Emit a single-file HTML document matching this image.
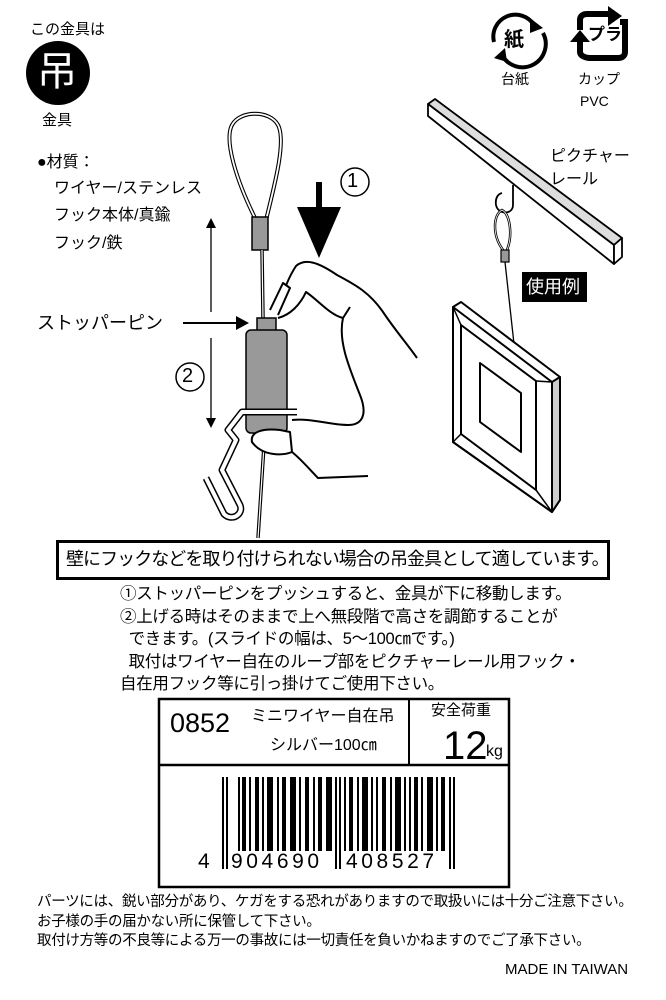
<!DOCTYPE html>
<html><head><meta charset="utf-8"><style>
html,body{margin:0;padding:0;background:#fff}
body{width:666px;height:1000px;position:relative;overflow:hidden;font-family:"Liberation Sans","Noto Sans CJK JP",sans-serif;color:#000}
.t{position:absolute;white-space:nowrap;line-height:1}
</style></head><body>
<svg width="666" height="1000" style="position:absolute;left:0;top:0" xmlns="http://www.w3.org/2000/svg">
<circle cx="58" cy="73" r="32" fill="#000"/>
<g stroke="#000" stroke-width="1.3" fill="none">
<line x1="211" y1="225" x2="211" y2="312"/>
<line x1="211" y1="338" x2="211" y2="422"/>
</g>
<polygon points="206,228 211,218 216,228" fill="#000"/>
<polygon points="206,418 211,428 216,418" fill="#000"/>
<line x1="183" y1="323" x2="240" y2="323" stroke="#000" stroke-width="2"/>
<polygon points="236,316 249,323 236,330" fill="#000"/>
<path d="M256,220 C236,180 224,140 232,125 C240,110 270,110 278,125 C286,140 276,180 266,220" fill="none" stroke="#000" stroke-width="4"/>
<path d="M256,220 C236,180 224,140 232,125 C240,110 270,110 278,125 C286,140 276,180 266,220" fill="none" stroke="#fff" stroke-width="1.8"/>
<rect x="252" y="217" width="16" height="33" fill="#999" stroke="#000" stroke-width="1.5"/>
<path d="M262,250 L263,318" stroke="#000" stroke-width="3.5" fill="none"/>
<path d="M262,250 L263,318" stroke="#fff" stroke-width="1.2" fill="none"/>
<path d="M265,430 L258,538" stroke="#000" stroke-width="3.5" fill="none"/>
<path d="M265,430 L258,538" stroke="#fff" stroke-width="1.2" fill="none"/>
<rect x="257" y="318" width="19" height="13" fill="#999" stroke="#000" stroke-width="1.5"/>
<rect x="246" y="330" width="41" height="103" rx="5" fill="#999" stroke="#000" stroke-width="1.5"/>
<path d="M297,412 L242,412 L228,430 L236,440 L222,470 L240,505 C244,514 232,522 224,514 L206,478" fill="none" stroke="#000" stroke-width="7" stroke-linejoin="round"/>
<path d="M297,412 L242,412 L228,430 L236,440 L222,470 L240,505 C244,514 232,522 224,514 L206,478" fill="none" stroke="#fff" stroke-width="4" stroke-linejoin="round"/>
<g fill="none" stroke="#000" stroke-width="2" stroke-linejoin="round">
<path d="M278,310 C282,295 288,278 296,266 C305,258 318,262 337,275 C356,285 370,293 383,312 C395,330 408,345 417,358"/>
<path d="M270,310 L283,283 L290,288 L278,315" fill="#fff"/>
<path d="M278,318 C290,315 300,305 306,292 C318,300 330,315 343,318 L350,307 M343,318 C338,340 348,365 360,395 C368,415 362,425 348,425 C330,425 312,418 292,420"/>
<path d="M252,442 C250,432 262,428 280,430 L290,432 L292,452 C282,456 262,456 252,442 Z" fill="#fff"/>
<path d="M292,452 C302,460 310,470 318,478 L368,476"/>
</g>
<rect x="316" y="182" width="6" height="28" fill="#000"/>
<polygon points="297,207 341,207 319,258" fill="#000"/>
<circle cx="355" cy="182" r="14" fill="none" stroke="#000" stroke-width="1.5"/>
<circle cx="190" cy="377" r="14" fill="none" stroke="#000" stroke-width="1.5"/>
<g fill="none" stroke="#000" stroke-width="4">
<path d="M494,42 A22,22 0 0 1 534,25"/>
<path d="M543,33 A22,22 0 0 1 502,55"/>
</g>
<polygon points="530,18 543,28 530,33" fill="#000"/>
<polygon points="505,48 494,58 507,62" fill="#000"/>
<path d="M580,30 L580,20 C580,16 583,14 587,14 L612,14 M620,22 L625,22 L625,52 C625,56 622,58 618,58 L590,58 C586,58 580,56 580,52 L580,42" fill="none" stroke="#000" stroke-width="6"/>
<polygon points="608,6 622,16 608,26" fill="#000"/>
<polygon points="570,42 580,30 590,42" fill="#000"/>
<polygon points="435,99 622,238 614,245 428,104" fill="#ddd" stroke="#000" stroke-width="1.8" stroke-linejoin="round"/>
<polygon points="428,104 614,245 614,264 428,116" fill="#fff" stroke="#000" stroke-width="1.8" stroke-linejoin="round"/>
<polygon points="614,245 622,238 622,257 614,264" fill="#fff" stroke="#000" stroke-width="1.8" stroke-linejoin="round"/>
<path d="M513,185 L513,205 C513,215 498,215 496,205 C495,198 498,194 502,193" fill="none" stroke="#000" stroke-width="1.8"/>
<path d="M503,250 C492,235 493,215 502,210 C510,214 513,235 507,250" fill="none" stroke="#000" stroke-width="2.5"/>
<path d="M503,250 C492,235 493,215 502,210 C510,214 513,235 507,250" fill="none" stroke="#fff" stroke-width="0.8"/>
<rect x="501" y="250" width="8" height="12" fill="#999" stroke="#000" stroke-width="1.2"/>
<line x1="505" y1="262" x2="514" y2="344" stroke="#000" stroke-width="1.3"/>
<rect x="522" y="272" width="65" height="30" fill="#000"/>
<g fill="#fff" stroke="#000" stroke-width="2" stroke-linejoin="round">
<polygon points="453,307 461,302 560,377 560,500 552,512 453,442"/>
<polygon points="453,307 552,382 552,512 453,442"/>
<polygon points="461,325 536,381 536,490 461,434"/>
<polygon points="480,363 521,393 521,452 480,422"/>
<polygon points="552,382 560,377 560,500 552,512" fill="#ccc"/>
</g>
<g stroke="#000" stroke-width="1.5"><line x1="453" y1="307" x2="461" y2="325"/><line x1="552" y1="382" x2="536" y2="381"/><line x1="552" y1="512" x2="536" y2="490"/><line x1="453" y1="442" x2="461" y2="434"/></g>
<rect x="57.5" y="541.5" width="551" height="37" fill="none" stroke="#000" stroke-width="3"/>
<rect x="159" y="699" width="350" height="188" fill="none" stroke="#000" stroke-width="2.5"/>
<line x1="159" y1="765" x2="509" y2="765" stroke="#000" stroke-width="2.5"/>
<line x1="409" y1="699" x2="409" y2="765" stroke="#000" stroke-width="2"/>
<g fill="#000">
<rect x="222" y="777" width="2" height="92"/><rect x="226" y="777" width="2" height="92"/>
<rect x="238" y="777" width="2" height="74"/><rect x="242" y="777" width="4" height="74"/>
<rect x="249" y="777" width="2" height="74"/><rect x="255" y="777" width="4" height="74"/>
<rect x="262" y="777" width="2" height="74"/><rect x="267" y="777" width="6" height="74"/>
<rect x="277" y="777" width="2" height="74"/><rect x="282" y="777" width="4" height="74"/>
<rect x="290" y="777" width="6" height="74"/><rect x="299" y="777" width="2" height="74"/>
<rect x="305" y="777" width="4" height="74"/><rect x="313" y="777" width="2" height="74"/>
<rect x="318" y="777" width="4" height="74"/><rect x="326" y="777" width="6" height="74"/>
<rect x="335" y="777" width="2" height="92"/><rect x="339" y="777" width="2" height="92"/>
<rect x="344" y="777" width="2" height="74"/><rect x="349" y="777" width="4" height="74"/>
<rect x="357" y="777" width="2" height="74"/><rect x="362" y="777" width="6" height="74"/>
<rect x="371" y="777" width="2" height="74"/><rect x="376" y="777" width="2" height="74"/>
<rect x="382" y="777" width="4" height="74"/><rect x="390" y="777" width="2" height="74"/>
<rect x="395" y="777" width="6" height="74"/><rect x="404" y="777" width="2" height="74"/>
<rect x="409" y="777" width="2" height="74"/><rect x="414" y="777" width="4" height="74"/>
<rect x="421" y="777" width="2" height="74"/><rect x="427" y="777" width="6" height="74"/>
<rect x="436" y="777" width="2" height="74"/><rect x="441" y="777" width="4" height="74"/>
<rect x="449" y="777" width="2" height="92"/><rect x="453" y="777" width="2" height="92"/>
</g>
</svg>

<div class="t" style="left:30px;top:22px;font-size:15px">この金具は</div>
<div class="t" style="left:37px;top:52px;font-size:40px;color:#fff">吊</div>
<div class="t" style="left:42px;top:113px;font-size:15px">金具</div>
<div class="t" style="left:37px;top:155px;font-size:16px">●材質：</div>
<div class="t" style="left:54px;top:181px;font-size:16px">ワイヤー/ステンレス</div>
<div class="t" style="left:54px;top:208px;font-size:16px">フック本体/真鍮</div>
<div class="t" style="left:54px;top:236px;font-size:16px">フック/鉄</div>
<div class="t" style="left:37px;top:314px;font-size:18px">ストッパーピン</div>
<div class="t" style="left:347px;top:171px;font-size:20px">1</div>
<div class="t" style="left:182px;top:366px;font-size:20px">2</div>
<div class="t" style="left:504px;top:30px;font-size:20px;font-weight:bold">紙</div>
<div class="t" style="left:588px;top:26px;font-size:17px;font-weight:bold">プラ</div>
<div class="t" style="left:501px;top:72px;font-size:14px">台紙</div>
<div class="t" style="left:578px;top:72px;font-size:14px">カップ</div>
<div class="t" style="left:580px;top:94px;font-size:14px">PVC</div>
<div class="t" style="left:550px;top:149px;font-size:16px">ピクチャー</div>
<div class="t" style="left:550px;top:172px;font-size:16px">レール</div>
<div class="t" style="left:526px;top:278px;font-size:18px;color:#fff">使用例</div>

<div class="t" style="left:66px;top:550px;font-size:18px;letter-spacing:-0.95px">壁にフックなどを取り付けられない場合の吊金具として適しています。</div>
<div class="t" style="left:120px;top:583px;font-size:16.5px;line-height:22.5px;letter-spacing:-0.3px">①ストッパーピンをプッシュすると、金具が下に移動します。<br>②上げる時はそのままで上へ無段階で高さを調節することが<br>&nbsp;&nbsp;できます。(スライドの幅は、5〜100㎝です。)<br>&nbsp;&nbsp;取付はワイヤー自在のループ部をピクチャーレール用フック・<br>自在用フック等に引っ掛けてご使用下さい。</div>

<div class="t" style="left:170px;top:710px;font-size:27px">0852</div>
<div class="t" style="left:251px;top:709px;font-size:16px">ミニワイヤー自在吊</div>
<div class="t" style="left:270px;top:738px;font-size:16px">シルバー100㎝</div>
<div class="t" style="left:431px;top:703px;font-size:15px">安全荷重</div>
<div class="t" style="left:443px;top:726px;font-size:40px">12</div>
<div class="t" style="left:486px;top:744px;font-size:16px">kg</div>
<div class="t" style="left:198px;top:851px;font-size:21px">4</div>
<div class="t" style="left:231px;top:851px;font-size:21px;letter-spacing:3.6px">904690</div>
<div class="t" style="left:346px;top:851px;font-size:21px;letter-spacing:3.6px">408527</div>

<div class="t" style="left:37px;top:893px;font-size:14.5px;line-height:19.5px;letter-spacing:-0.3px">パーツには、鋭い部分があり、ケガをする恐れがありますので取扱いには十分ご注意下さい。<br>お子様の手の届かない所に保管して下さい。<br>取付け方等の不良等による万一の事故には一切責任を負いかねますのでご了承下さい。</div>
<div class="t" style="left:505px;top:962px;font-size:15px">MADE IN TAIWAN</div>
</body></html>
